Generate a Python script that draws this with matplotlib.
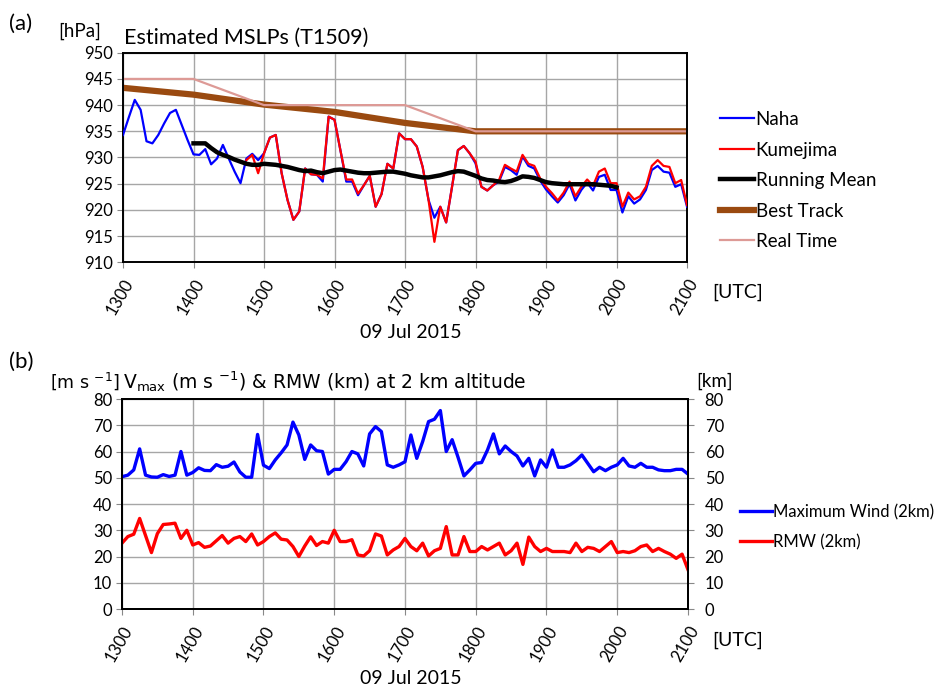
import numpy as np
import matplotlib
matplotlib.use('Agg')
import matplotlib.pyplot as plt

plt.rcParams['font.family'] = ['Lato', 'DejaVu Sans']
plt.rcParams['mathtext.fontset'] = 'dejavusans'

# ---------------- data ----------------
# 5-minute samples from 1300 to 2100 UTC (97 samples), x in hours
t5 = 13 + np.arange(97) * 5 / 60.0
hours = [13, 14, 15, 16, 17, 18, 19, 20, 21]
hour_labels = ['1300', '1400', '1500', '1600', '1700', '1800', '1900', '2000', '2100']

naha = [934.3, 937.7, 941.0, 939.1, 933.1, 932.7, 934.3, 936.5, 938.5, 939.1,
        936.2, 933.3, 930.6, 930.5, 931.6, 928.7, 929.8, 932.4, 929.8, 927.3,
        925.1, 929.8, 930.7, 929.5, 930.8, 933.8, 934.3, 927.0, 921.9, 918.1,
        919.7, 927.9, 926.8, 926.7, 925.4, 937.8, 937.2, 931.4, 925.4, 925.4,
        922.8, 924.7, 926.5, 920.6, 923.0, 928.8, 927.9, 934.6, 933.5, 933.5,
        932.1, 928.2, 921.9, 918.5, 920.6, 917.6, 924.4, 931.4, 932.2, 930.8,
        928.9, 924.4, 923.7, 924.7, 925.4, 928.2, 927.6, 926.7, 930.2, 928.4,
        927.9, 925.6, 923.9, 922.6, 921.4, 922.8, 924.9, 921.8, 923.8, 925.2,
        923.7, 926.3, 926.7, 923.8, 923.8, 919.5, 922.6, 921.2, 922.0, 923.8,
        927.6, 928.4, 927.3, 927.1, 924.4, 924.9, 920.6]

kumejima = [np.nan] * 21 + [
        929.5, 930.5, 927.0, 930.8, 933.8, 934.3, 927.0, 921.9, 918.1,
        919.7, 927.9, 926.8, 926.7, 926.0, 937.8, 937.2, 931.4, 925.8, 925.8,
        923.1, 924.7, 926.5, 920.6, 923.0, 928.8, 927.9, 934.6, 933.5, 933.5,
        932.1, 928.2, 921.9, 913.9, 920.6, 917.6, 924.4, 931.4, 932.2, 930.8,
        929.2, 924.4, 923.7, 924.7, 925.7, 928.6, 927.9, 927.3, 930.5, 928.8,
        928.4, 926.0, 924.4, 923.2, 921.8, 923.3, 925.4, 922.6, 924.4, 925.8,
        924.6, 927.3, 927.9, 925.1, 925.1, 920.6, 923.3, 922.0, 922.6, 924.4,
        928.4, 929.5, 928.4, 928.2, 925.1, 925.7, 920.9]

# running mean from 1400 to 2000 (5-min samples)
running_mean = [932.7, 932.7, 932.7, 931.8, 931.0, 930.5, 930.1, 929.6, 929.2, 928.8,
                928.6, 928.6, 928.8, 928.7, 928.6, 928.4, 928.2, 927.9, 927.6, 927.4,
                927.5, 927.2, 927.0, 927.3, 927.6, 927.7, 927.5, 927.3, 927.1, 927.0,
                927.0, 927.1, 927.2, 927.3, 927.3, 927.1, 926.9, 926.6, 926.4, 926.2,
                926.2, 926.4, 926.6, 926.9, 927.2, 927.4, 927.3, 926.9, 926.5, 926.0,
                925.7, 925.6, 925.4, 925.3, 925.5, 925.9, 926.4, 926.3, 926.1, 925.7,
                925.3, 925.1, 925.0, 924.9, 924.9, 924.9, 924.9, 924.9, 924.9, 924.8,
                924.7, 924.6, 924.3]

best_track = [943.3, 942.0, 940.1, 938.7, 936.6, 935.0, 935.0, 935.0, 935.0]
real_time = [945.0, 945.0, 940.0, 940.0, 940.0, 935.0, 935.0, 935.0, 935.0]

vmax = [50.4, 51.0, 53.0, 61.0, 51.0, 50.3, 50.2, 51.2, 50.5, 51.0,
        60.0, 51.0, 52.0, 53.8, 52.8, 52.7, 55.0, 54.0, 54.4, 56.0,
        52.2, 50.2, 50.2, 66.5, 54.8, 53.5, 56.8, 59.5, 62.5, 71.2,
        66.3, 57.0, 62.5, 60.3, 60.0, 51.4, 53.2, 53.2, 56.1, 60.0,
        59.1, 54.5, 66.7, 69.5, 67.6, 54.9, 54.0, 54.9, 56.1, 66.3,
        57.4, 63.8, 71.4, 72.3, 75.6, 60.0, 64.5, 57.8, 50.7, 53.0,
        55.5, 55.8, 60.6, 66.7, 59.1, 62.1, 60.0, 58.3, 54.5, 57.4,
        50.7, 56.8, 54.0, 60.6, 54.0, 54.0, 54.9, 56.5, 58.7, 55.5,
        52.3, 54.0, 52.7, 54.0, 54.9, 57.4, 54.5, 54.0, 55.5, 54.0,
        54.0, 53.0, 52.7, 52.7, 53.2, 53.2, 51.4]

rmw = [25.1, 27.6, 28.5, 34.5, 28.0, 21.5, 28.7, 32.2, 32.4, 32.7,
       26.9, 30.0, 24.4, 25.3, 23.5, 24.0, 26.0, 28.0, 25.1, 26.9,
       27.6, 25.7, 28.6, 24.4, 25.7, 27.6, 29.0, 26.6, 26.3, 23.8,
       20.0, 24.0, 27.5, 24.2, 25.7, 25.1, 30.0, 25.7, 25.7, 26.4,
       20.6, 20.2, 22.2, 28.6, 27.8, 20.6, 22.5, 23.8, 26.9, 23.8,
       22.2, 25.1, 20.2, 22.2, 23.1, 31.4, 20.6, 20.6, 27.6, 21.9,
       21.9, 23.8, 22.5, 23.8, 25.1, 20.6, 22.2, 25.1, 17.0, 27.4,
       23.8, 21.9, 23.1, 21.9, 21.9, 21.9, 21.5, 25.1, 21.9, 23.5,
       23.1, 21.9, 23.8, 25.7, 21.5, 21.9, 21.5, 22.2, 23.8, 24.4,
       21.9, 23.1, 21.9, 20.9, 19.3, 20.9, 15.0]

# ---------------- figure ----------------
fig = plt.figure(figsize=(9.44, 6.92), dpi=100)

FS_TICK = 12
FS_LAB = 13.5
GRID = '#a6a6a6'


def style_axes(ax):
    ax.set_xlim(13, 21)
    ax.set_xticks(hours)
    ax.set_xticklabels(hour_labels, rotation=60, ha='right', va='top',
                       rotation_mode='anchor', fontsize=FS_TICK)
    ax.grid(True, color=GRID, lw=1.0)
    ax.set_axisbelow(True)
    for s in ax.spines.values():
        s.set_color('black')
        s.set_linewidth(1.4)
    ax.tick_params(axis='both', direction='out', length=4, width=0.8,
                   color='#888888', labelsize=FS_TICK, pad=3)


# ---- panel (a)
ax1 = fig.add_axes([0.1303, 0.6210, 0.5975, 0.3028])
ax1.plot(t5, naha, color='#0000ff', lw=1.6, label='Naha', zorder=3)
ax1.plot(t5, kumejima, color='#ff0000', lw=1.6, label='Kumejima', zorder=4)
ax1.plot(t5[12:85], running_mean, color='black', lw=3.2, label='Running Mean', zorder=5)
ax1.plot(hours, best_track, color='#9a4a10', lw=4.5, label='Best Track', zorder=2)
ax1.plot(hours, real_time, color='#dd9a96', lw=1.6, label='Real Time', zorder=2)
style_axes(ax1)
ax1.set_ylim(910, 950)
ax1.set_yticks(np.arange(910, 951, 5))
ax1.tick_params(axis='x', pad=6)
ax1.legend(loc='center left', bbox_to_anchor=(1.045, 0.39), frameon=False,
           fontsize=FS_LAB, handlelength=1.8, handletextpad=0.1,
           labelspacing=0.72, borderaxespad=0)

fig.text(0.010, 0.965, '(a)', fontsize=16, va='center', ha='left')
fig.text(0.062, 0.955, '[hPa]', fontsize=FS_LAB, va='center', ha='left')
fig.text(0.131, 0.945, 'Estimated MSLPs (T1509)', fontsize=15.5, va='center', ha='left')
fig.text(0.755, 0.577, '[UTC]', fontsize=FS_LAB + 0.5, va='center', ha='left')
fig.text(0.435, 0.519, '09 Jul 2015', fontsize=FS_LAB + 0.5, va='center', ha='center')

# ---- panel (b)
ax2 = fig.add_axes([0.1292, 0.1199, 0.5996, 0.3035])
ax2.plot(t5, vmax, color='#0000ff', lw=2.4, label='Maximum Wind (2km)', zorder=3)
ax2.plot(t5, rmw, color='#ff0000', lw=2.4, label='RMW (2km)', zorder=3)
style_axes(ax2)
ax2.set_ylim(0, 80)
ax2.set_yticks(np.arange(0, 81, 10))
ax2.tick_params(axis='x', pad=6)
ax2r = ax2.twinx()
ax2r.set_ylim(0, 80)
ax2r.set_yticks(np.arange(0, 81, 10))
ax2r.tick_params(axis='y', direction='out', length=4, width=0.8, color='#888888',
                 labelsize=FS_TICK, pad=8)
for s in ax2r.spines.values():
    s.set_color('black')
    s.set_linewidth(1.4)
ax2.legend(loc='center left', bbox_to_anchor=(1.08, 0.39), frameon=False,
           fontsize=12, handlelength=1.9, handletextpad=0.1,
           labelspacing=0.85, borderaxespad=0)

fig.text(0.010, 0.477, '(b)', fontsize=16, va='center', ha='left')
fig.text(0.053, 0.449, r'[m s $^{-1}$]', fontsize=12.5, va='center', ha='left',
         family='DejaVu Sans')
fig.text(0.130, 0.449, r'V$_{\mathrm{max}}$ (m s $^{-1}$) & RMW (km) at 2 km altitude',
         fontsize=13.5, va='center', ha='left', family='DejaVu Sans')
fig.text(0.738, 0.449, '[km]', fontsize=FS_LAB, va='center', ha='left')
fig.text(0.755, 0.075, '[UTC]', fontsize=FS_LAB + 0.5, va='center', ha='left')
fig.text(0.435, 0.020, '09 Jul 2015', fontsize=FS_LAB + 0.5, va='center', ha='center')

fig.savefig('out.png', dpi=100)
